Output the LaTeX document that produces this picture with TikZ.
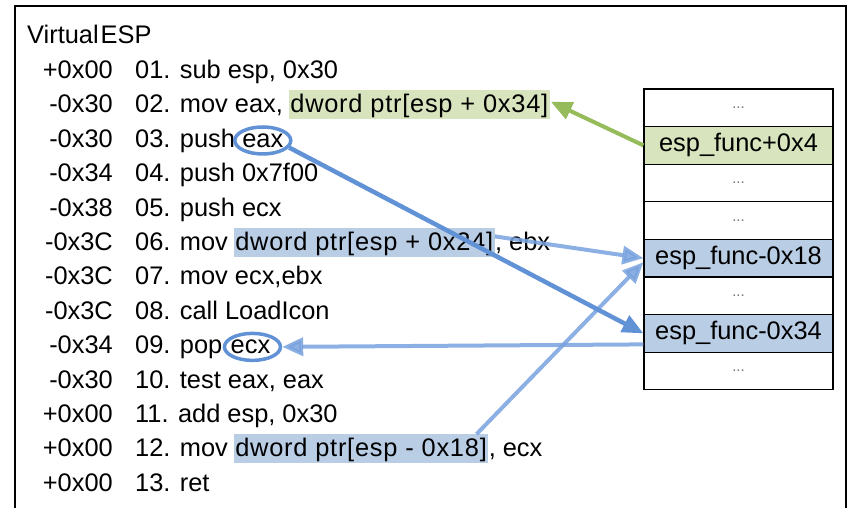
\documentclass[tikz,border=0pt]{standalone}
\usepackage{fontspec}
\setmainfont{Liberation Sans}
\usetikzlibrary{shapes.geometric,arrows.meta}

\definecolor{hlgreen}{RGB}{215,228,189}
\definecolor{argreen}{RGB}{150,187,90}
\definecolor{hlblue}{RGB}{185,205,229}
\definecolor{arblue}{RGB}{98,146,214}
\definecolor{arbluelt}{RGB}{120,162,222}

\begin{document}
\begin{tikzpicture}[x=1pt,y=-1pt,
  font=\fontsize{25.4}{30}\selectfont,
  off/.style={anchor=base east, inner sep=0pt},
  ins/.style={anchor=base west, inner sep=0pt},
  hl/.style={anchor=base west, inner xsep=1.5pt, inner ysep=0.5pt,
             text height=22pt, text depth=6pt,
             font=\fontsize{25.4}{30}\selectfont\addfontfeature{LetterSpace=3.0}},
  ring/.style={ellipse, draw=arblue, line width=3.5pt, inner sep=0pt,
               minimum width=56pt, minimum height=27pt},
  cell/.style={draw=black, line width=1.2pt, minimum width=189pt,
               minimum height=37.6pt, inner sep=0pt},
  dots/.style={font=\fontsize{15}{15}\selectfont, text=black!55},
  tip/.style={-{Triangle[length=21pt,width=18pt]}},
  garrow/.style={tip, draw=argreen, line width=4pt},
  barrow/.style={tip, draw=arblue, line width=4.5pt},
  bltarrow/.style={tip, draw=arbluelt, line width=4pt, opacity=0.85}]

\useasboundingbox (0,0) rectangle (849,508);

% outer frame (open at the bottom)
\draw[line width=1.3pt] (15,508) -- (15,6) -- (846,6) -- (846,508);

% title
\node[ins] (title) at (27,44) {Virtual\kern2pt ESP};

% listing: stack offset, then instruction
\node[off] (o1) at (113,78.4) {+0x00};
\node[ins] (i1) at (135,78.4) {01. sub esp, 0x30};

\node[off] (o2) at (113,112.8) {-0x30};
\node[ins] (i2) at (135,112.8) {02. mov eax,};
\node[hl, fill=hlgreen] (h2) at ([xshift=5.5pt]i2.base east) {dword ptr[esp + 0x34]};

\node[off] (o3) at (113,147.2) {-0x30};
\node[ins] (i3) at (135,147.2) {03. push};
\node[ins] (e3) at ([xshift=6.9pt]i3.base east) {eax};
\node[ring] (eax) at (e3.center) {};

\node[off] (o4) at (113,181.6) {-0x34};
\node[ins] (i4) at (135,181.6) {04. push 0x7f00};

\node[off] (o5) at (113,216) {-0x38};
\node[ins] (i5) at (135,216) {05. push ecx};

\node[off] (o6) at (113,250.4) {-0x3C};
\node[ins] (i6) at (135,250.4) {06. mov};
\node[hl, fill=hlblue] (h6) at ([xshift=5.5pt]i6.base east) {dword ptr[esp + 0x24]};
\node[ins] (t6) at (h6.base east) {, ebx};

\node[off] (o7) at (113,284.8) {-0x3C};
\node[ins] (i7) at (135,284.8) {07. mov ecx,ebx};

\node[off] (o8) at (113,319.2) {-0x3C};
\node[ins] (i8) at (135,319.2) {08. call LoadIcon};

\node[off] (o9) at (113,353.6) {-0x34};
\node[ins] (i9) at (135,353.6) {09. pop};
\node[ins] (e9) at ([xshift=8pt]i9.base east) {ecx};
\node[ring] (ecx) at ([xshift=2pt]e9.center) {};

\node[off] (o10) at (113,388) {-0x30};
\node[ins] (i10) at (135,388) {10. test eax, eax};

\node[off] (o11) at (113,422.4) {+0x00};
\node[ins] (i11) at (135,422.4) {11. add esp, 0x30};

\node[off] (o12) at (113,456.8) {+0x00};
\node[ins] (i12) at (135,456.8) {12. mov};
\node[hl, fill=hlblue] (h12) at ([xshift=5.5pt]i12.base east) {dword ptr[esp - 0x18]};
\node[ins] (t12) at (h12.base east) {, ecx};

\node[off] (o13) at (113,491.2) {+0x00};
\node[ins] (i13) at (135,491.2) {13. ret};

% stack frame cells
\node[cell] (c1) at (738.5,107.8) {}; \node[dots] at (c1) {...};
\node[cell, fill=hlgreen] (c2) at (738.5,145.4) {esp\_func+0x4};
\node[cell] (c3) at (738.5,183.0) {}; \node[dots] at (c3) {...};
\node[cell] (c4) at (738.5,220.6) {}; \node[dots] at (c4) {...};
\node[cell, fill=hlblue] (c5) at (738.5,258.2) {esp\_func-0x18};
\node[cell] (c6) at (738.5,295.8) {}; \node[dots] at (c6) {...};
\node[cell, fill=hlblue] (c7) at (738.5,333.4) {esp\_func-0x34};
\node[cell] (c8) at (738.5,371.0) {}; \node[dots] at (c8) {...};

% data flow
\draw[garrow] (c2.west) -- ([xshift=1pt,yshift=3pt]h2.east);
\draw[bltarrow] ([yshift=6pt]h6.east) -- (c5.west);
\draw[bltarrow] ([xshift=-12pt]h12.north east) -- ([yshift=-4pt]c5.west);
\draw[barrow] (eax.-15) -- (c7.west);
\draw[bltarrow] ([yshift=-11pt]c7.west) -- (ecx.east);

\end{tikzpicture}
\end{document}
